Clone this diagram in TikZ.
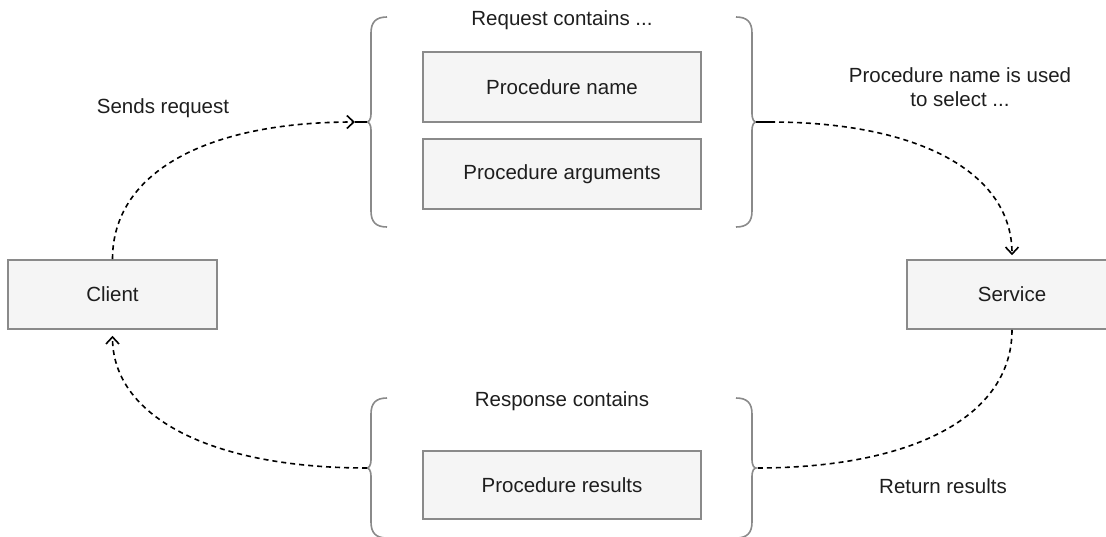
\documentclass[tikz,border=0pt]{standalone}
\usepackage{fontspec}
\setmainfont{Liberation Sans}
\usetikzlibrary{arrows.meta}
\definecolor{boxfill}{HTML}{F5F5F5}
\definecolor{edgegray}{HTML}{8A8A8A}
\definecolor{ink}{HTML}{1E1E1E}

\begin{document}
\begin{tikzpicture}[x=1pt,y=-1pt,
  every node/.style={font=\fontsize{20.5}{24}\selectfont, text=ink},
  box/.style={draw=edgegray, fill=boxfill, line width=1.6pt, inner sep=0pt,
              minimum width=#1, minimum height=70pt},
  box/.default=278pt,
  flow/.style={draw=black, line width=1.6pt, dash pattern=on 5pt off 4pt},
  stub/.style={draw=black, line width=1.6pt},
  tip/.style={-{Straight Barb[length=7pt,width=13pt,line width=1.6pt]}},
  pics/lbrace/.style={code={
    \draw[edgegray, line width=1.6pt]
      (20,-#1) .. controls (9,-#1) and (4,-#1+5) .. (4,-#1+16)
      -- (4,-8) .. controls (4,-3) and (2,0) .. (0,0)
      .. controls (2,0) and (4,3) .. (4,8)
      -- (4,#1-16) .. controls (4,#1-5) and (9,#1) .. (20,#1);
  }}
]
\useasboundingbox (0,0) rectangle (1106,536);
\clip (0,0) rectangle (1106,536);

% end points and boxes
\node[box=209pt, minimum height=69pt] (client) at (112.5,294.5) {Client};
\node[box=210pt, minimum height=69pt] (service) at (1012,294.5) {Service};
\node[box] (pname) at (562,87) {Procedure name};
\node[box] (pargs) at (562,174) {Procedure arguments};
\node[box, minimum height=68pt] (presults) at (562,485) {Procedure results};

% braces grouping the message contents
\pic at (367,122) {lbrace=105};
\pic[xscale=-1] at (756,122) {lbrace=105};
\pic at (367,468) {lbrace=70};
\pic[xscale=-1] at (756,468) {lbrace=70};

\coordinate (reqL) at (367,122);
\coordinate (reqArrow) at (355,122);
\coordinate (reqR) at (756,122);
\coordinate (reqOut) at (770,122);
\coordinate (resL) at (367,468);
\coordinate (resR) at (756,468);

% labels
\node[anchor=base] (reqlabel) at (562,25) {Request contains ...};
\node[anchor=base] (sendlabel) at (163,113) {Sends request};
\node[align=center] (selectlabel) at (960,87.5) {Procedure name is used\\to select ...};
\node[anchor=base] (reslabel) at (562,406) {Response contains};
\node[anchor=base] (retlabel) at (943,493) {Return results};

% request path
\draw[flow, tip] (client.north) .. controls +(0,-86) and +(-150,0) .. (reqArrow);
\draw[stub] (reqArrow) -- (reqL);
\draw[stub] (reqR) -- (reqOut);
\draw[flow, tip, shorten >=4pt] (reqOut) .. controls +(150,0) and +(0,-86) .. (service.north);

% response path
\draw[flow] (service.south) .. controls +(0,86) and +(158,0) .. (resR);
\draw[flow, tip, shorten >=6pt] (resL) .. controls +(-158,0) and +(0,86) .. (client.south);
\end{tikzpicture}
\end{document}
